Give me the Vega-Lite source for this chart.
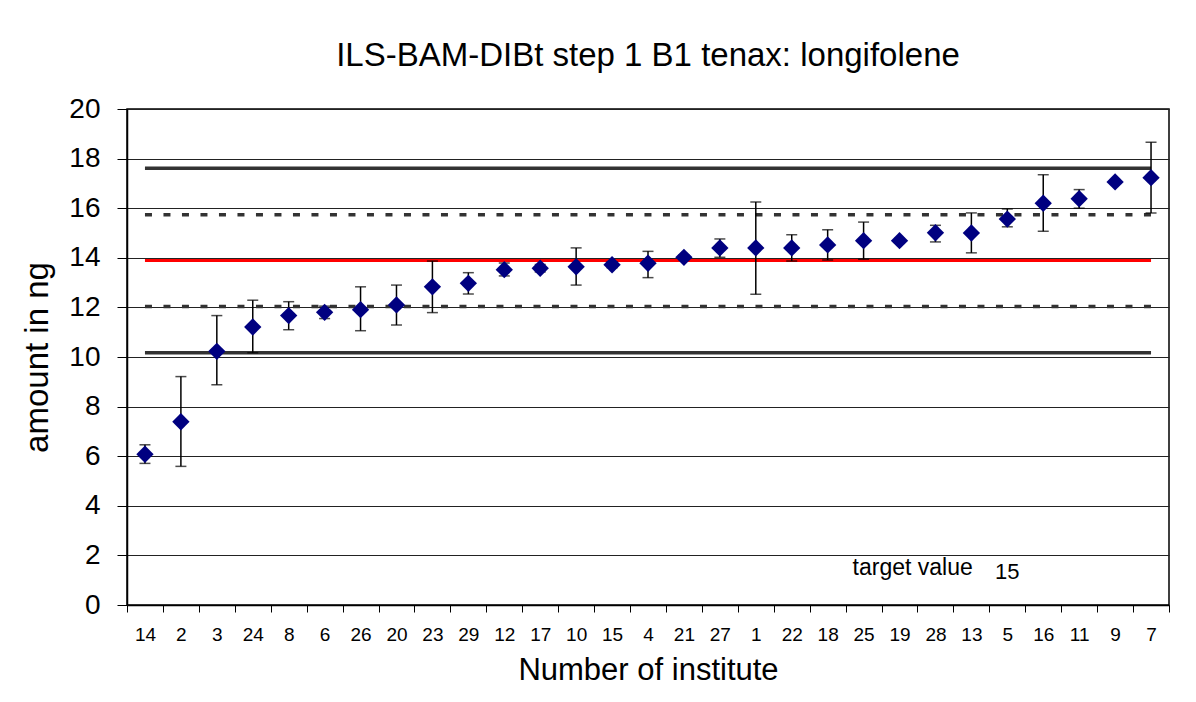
{
  "$schema": "https://vega.github.io/schema/vega-lite/v6.json",
  "width": 1042,
  "height": 496,
  "autosize": {"type": "none"},
  "padding": {"left": 127, "top": 109, "right": 27, "bottom": 97},
  "background": "white",
  "title": {
    "text": "ILS-BAM-DIBt step 1 B1 tenax: longifolene",
    "font": "Liberation Sans",
    "fontSize": 33,
    "fontWeight": "normal",
    "color": "black",
    "frame": "group",
    "anchor": "middle",
    "baseline": "alphabetic",
    "offset": -4
  },
  "config": {
    "view": {"stroke": "black", "strokeWidth": 1.5},
    "font": "Liberation Sans"
  },
  "datasets": {
    "points": [
      {"inst": "14", "mean": 6.08, "lo": 5.71, "hi": 6.46},
      {"inst": "2", "mean": 7.39, "lo": 5.59, "hi": 9.21},
      {"inst": "3", "mean": 10.23, "lo": 8.88, "hi": 11.67},
      {"inst": "24", "mean": 11.21, "lo": 10.17, "hi": 12.29},
      {"inst": "8", "mean": 11.67, "lo": 11.1, "hi": 12.23},
      {"inst": "6", "mean": 11.8, "lo": 11.55, "hi": 12.05},
      {"inst": "26", "mean": 11.91, "lo": 11.06, "hi": 12.83},
      {"inst": "20", "mean": 12.1, "lo": 11.29, "hi": 12.9},
      {"inst": "23", "mean": 12.83, "lo": 11.79, "hi": 13.87},
      {"inst": "29", "mean": 12.97, "lo": 12.54, "hi": 13.4},
      {"inst": "12", "mean": 13.52, "lo": 13.27, "hi": 13.79},
      {"inst": "17", "mean": 13.58, "lo": 13.43, "hi": 13.73},
      {"inst": "10", "mean": 13.64, "lo": 12.9, "hi": 14.4},
      {"inst": "15", "mean": 13.72, "lo": 13.6, "hi": 13.84},
      {"inst": "4", "mean": 13.78, "lo": 13.2, "hi": 14.26},
      {"inst": "21", "mean": 14.02, "lo": 13.92, "hi": 14.12},
      {"inst": "27", "mean": 14.4, "lo": 14.02, "hi": 14.76},
      {"inst": "1", "mean": 14.4, "lo": 12.53, "hi": 16.25},
      {"inst": "22", "mean": 14.4, "lo": 13.87, "hi": 14.93},
      {"inst": "18", "mean": 14.52, "lo": 13.91, "hi": 15.13},
      {"inst": "25", "mean": 14.69, "lo": 13.94, "hi": 15.44},
      {"inst": "19", "mean": 14.69, "lo": 14.6, "hi": 14.78},
      {"inst": "28", "mean": 15.01, "lo": 14.64, "hi": 15.31},
      {"inst": "13", "mean": 15.0, "lo": 14.2, "hi": 15.81},
      {"inst": "5", "mean": 15.56, "lo": 15.25, "hi": 15.97},
      {"inst": "16", "mean": 16.2, "lo": 15.07, "hi": 17.35},
      {"inst": "11", "mean": 16.38, "lo": 16.0, "hi": 16.75},
      {"inst": "9", "mean": 17.06, "lo": 17.0, "hi": 17.12},
      {"inst": "7", "mean": 17.23, "lo": 15.81, "hi": 18.66}
    ],
    "lines": [
      {"x0": "14", "x1": "7", "v": 17.61, "kind": "solid"},
      {"x0": "14", "x1": "7", "v": 10.17, "kind": "solid"},
      {"x0": "14", "x1": "7", "v": 15.74, "kind": "dash"},
      {"x0": "14", "x1": "7", "v": 12.04, "kind": "dash"},
      {"x0": "14", "x1": "7", "v": 13.89, "kind": "target"}
    ],
    "labels": [
      {"inst": "25", "v": 1.21, "label": "target value"}
    ],
    "labels2": [
      {"inst": "5", "v": 1.05, "label": "15"}
    ]
  },
  "layer": [
    {
      "data": {"name": "lines"},
      "transform": [{"filter": "datum.kind === 'solid'"}],
      "mark": {"type": "rule", "color": "#333333", "strokeWidth": 3.5, "strokeCap": "butt"},
      "encoding": {
        "x": {
          "field": "x0", "type": "nominal", "sort": null,
          "title": "Number of institute",
          "scale": {"domain": ["14","2","3","24","8","6","26","20","23","29","12","17","10","15","4","21","27","1","22","18","25","19","28","13","5","16","11","9","7"], "paddingInner": 0, "paddingOuter": 0},
          "axis": {
            "labelAngle": 0, "labelFont": "Liberation Sans", "labelFontSize": 19, "labelColor": "black",
            "labelPadding": 13, "tickBand": "extent", "tickSize": 7, "tickColor": "black", "tickWidth": 1,
            "domainColor": "black", "domainWidth": 1.5, "titleFont": "Liberation Sans", "titleFontSize": 31,
            "titleFontWeight": "normal", "titleColor": "black", "titlePadding": 11, "grid": false
          }
        },
        "x2": {"field": "x1"},
        "y": {
          "field": "v", "type": "quantitative", "title": "amount in ng",
          "scale": {"domain": [0, 20], "nice": false, "zero": true},
          "axis": {
            "values": [0, 2, 4, 6, 8, 10, 12, 14, 16, 18, 20],
            "labelFont": "Liberation Sans", "labelFontSize": 28, "labelColor": "black", "labelPadding": 17,
            "tickSize": 10, "tickColor": "black", "tickWidth": 1,
            "grid": true, "gridColor": "#222222", "gridWidth": 1,
            "domainColor": "black", "domainWidth": 1.5,
            "titleFont": "Liberation Sans", "titleFontSize": 33, "titleFontWeight": "normal", "titleColor": "black",
            "titlePadding": 14
          }
        }
      }
    },
    {
      "data": {"name": "lines"},
      "transform": [{"filter": "datum.kind === 'dash'"}],
      "mark": {"type": "rule", "color": "#333333", "strokeWidth": 3.5, "strokeCap": "butt", "strokeDash": [7, 11.5]},
      "encoding": {
        "x": {"field": "x0", "type": "nominal", "sort": null, "title": "Number of institute"},
        "x2": {"field": "x1"},
        "y": {"field": "v", "type": "quantitative", "title": "amount in ng"}
      }
    },
    {
      "data": {"name": "lines"},
      "transform": [{"filter": "datum.kind === 'target'"}],
      "mark": {"type": "rule", "color": "#ff0000", "strokeWidth": 3, "strokeCap": "butt"},
      "encoding": {
        "x": {"field": "x0", "type": "nominal", "sort": null, "title": "Number of institute"},
        "x2": {"field": "x1"},
        "y": {"field": "v", "type": "quantitative", "title": "amount in ng"}
      }
    },
    {
      "data": {"name": "points"},
      "mark": {"type": "rule", "color": "black", "strokeWidth": 1.5},
      "encoding": {
        "x": {"field": "inst", "type": "nominal", "sort": null, "title": "Number of institute"},
        "y": {"field": "lo", "type": "quantitative", "title": "amount in ng"},
        "y2": {"field": "hi"}
      }
    },
    {
      "data": {"name": "points"},
      "mark": {"type": "tick", "color": "black", "size": 11, "thickness": 1.5},
      "encoding": {
        "x": {"field": "inst", "type": "nominal", "sort": null, "title": "Number of institute"},
        "y": {"field": "lo", "type": "quantitative", "title": "amount in ng"}
      }
    },
    {
      "data": {"name": "points"},
      "mark": {"type": "tick", "color": "black", "size": 11, "thickness": 1.5},
      "encoding": {
        "x": {"field": "inst", "type": "nominal", "sort": null, "title": "Number of institute"},
        "y": {"field": "hi", "type": "quantitative", "title": "amount in ng"}
      }
    },
    {
      "data": {"name": "points"},
      "mark": {"type": "point", "shape": "diamond", "filled": true, "color": "#000080", "opacity": 1, "size": 300},
      "encoding": {
        "x": {"field": "inst", "type": "nominal", "sort": null, "title": "Number of institute"},
        "y": {"field": "mean", "type": "quantitative", "title": "amount in ng"}
      }
    },
    {
      "data": {"name": "labels"},
      "mark": {"type": "text", "align": "left", "baseline": "alphabetic", "dx": -11, "font": "Liberation Sans", "fontSize": 23, "color": "black"},
      "encoding": {
        "x": {"field": "inst", "type": "nominal", "sort": null, "title": "Number of institute"},
        "y": {"field": "v", "type": "quantitative", "title": "amount in ng"},
        "text": {"field": "label"}
      }
    },
    {
      "data": {"name": "labels2"},
      "mark": {"type": "text", "align": "center", "baseline": "alphabetic", "font": "Liberation Sans", "fontSize": 22, "color": "black"},
      "encoding": {
        "x": {"field": "inst", "type": "nominal", "sort": null, "title": "Number of institute"},
        "y": {"field": "v", "type": "quantitative", "title": "amount in ng"},
        "text": {"field": "label"}
      }
    }
  ]
}
